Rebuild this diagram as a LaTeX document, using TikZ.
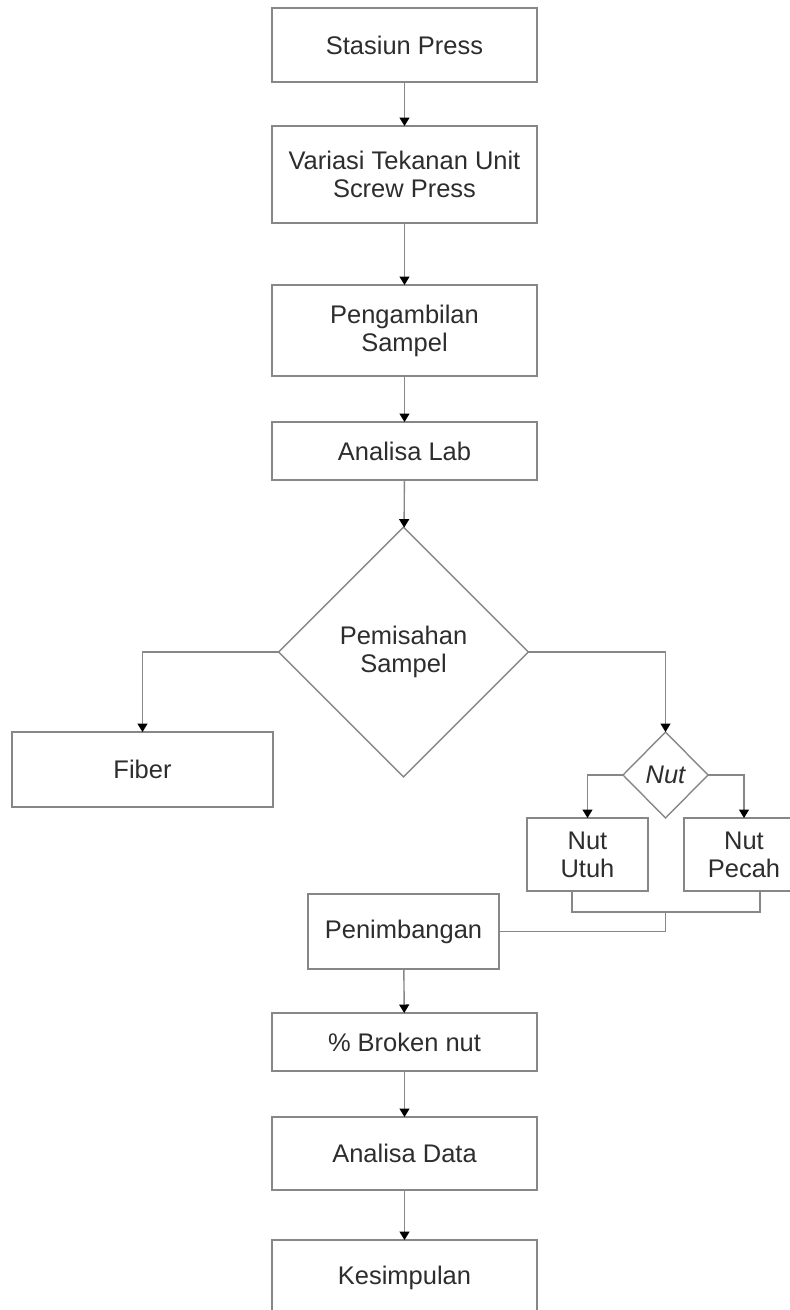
\documentclass[tikz,border=0pt]{standalone}
\usepackage{fontspec}
\setmainfont{Liberation Sans}
\usepackage{tikz}
\usetikzlibrary{shapes.geometric}
\usetikzlibrary{arrows.meta}
\definecolor{linegray}{RGB}{135,135,135}
\definecolor{textgray}{RGB}{45,45,45}
\def\pxlen{0.02cm}
\tikzset{boxfont/.style={font=\fontsize{14.5}{16}\selectfont, text=textgray, align=center}}
\tikzset{procnode/.style={draw=linegray, line width=0.8pt, rectangle, inner sep=0pt, outer sep=0pt, boxfont}}
\tikzset{decnode/.style={draw=linegray, line width=0.8pt, diamond, aspect=1, inner sep=0pt, outer sep=0pt, boxfont}}
\tikzset{flow/.style={draw=linegray, line width=0.8pt, -{Triangle[width=0.2cm, length=0.17cm, black]}}}
\tikzset{joinline/.style={draw=linegray, line width=0.8pt}}

\begin{document}
\begin{tikzpicture}[x=\pxlen, y=-\pxlen]
\useasboundingbox (0,0) rectangle (790,1310);
\node (press) [procnode, minimum width=5.3cm, minimum height=1.48cm] at (404.5, 45) {Stasiun Press};
\node (variasi) [procnode, minimum width=5.3cm, minimum height=1.94cm] at (404.5, 174.5) {Variasi Tekanan Unit\\Screw Press};
\node (ambil) [procnode, minimum width=5.3cm, minimum height=1.82cm] at (404.5, 330.5) {Pengambilan\\Sampel};
\node (lab) [procnode, minimum width=5.3cm, minimum height=1.16cm] at (404.5, 451) {Analisa Lab};
\node (pisah) [decnode, minimum width=5cm, minimum height=5cm] at (403.5, 652) {Pemisahan\\Sampel};
\node (fiber) [procnode, minimum width=5.22cm, minimum height=1.5cm] at (142.5, 769.5) {Fiber};
\node (nutd) [decnode, minimum width=1.7cm, minimum height=1.72cm] at (665.5, 775) {\itshape Nut};
\node (utuh) [procnode, minimum width=2.42cm, minimum height=1.46cm] at (587.5, 854.5) {Nut\\Utuh};
\node (pecah) [procnode, minimum width=2.4cm, minimum height=1.46cm] at (744, 854.5) {Nut\\Pecah};
\node (timbang) [procnode, minimum width=3.82cm, minimum height=1.5cm] at (403.5, 931.5) {Penimbangan};
\node (broken) [procnode, minimum width=5.3cm, minimum height=1.16cm] at (404.5, 1042) {\% Broken nut};
\node (data) [procnode, minimum width=5.3cm, minimum height=1.46cm] at (404.5, 1153.5) {Analisa Data};
\node (simpul) [procnode, minimum width=5.3cm, minimum height=1.5cm] at (404.5, 1277.5) {Kesimpulan};

\coordinate (ju) at (572, 912);
\coordinate (jp) at (760, 912);
\coordinate (jm) at (665.5, 912);

\draw[flow] (press) -- (variasi);
\draw[flow] (variasi) -- (ambil);
\draw[flow] (ambil) -- (lab);
\draw[flow] (lab) -- (pisah);
\draw[flow] (pisah.west) -| (fiber.north);
\draw[flow] (pisah.east) -| (nutd.north);
\draw[flow] (nutd.west) -| (utuh.north);
\draw[flow] (nutd.east) -| (pecah.north);
\draw[joinline] (utuh.south -| ju) -- (ju) -- (jp) -- (pecah.south -| jp);
\draw[joinline] (jm) |- (timbang.east);
\draw[flow] (timbang) -- (broken);
\draw[flow] (broken) -- (data);
\draw[flow] (data) -- (simpul);
\end{tikzpicture}
\end{document}
